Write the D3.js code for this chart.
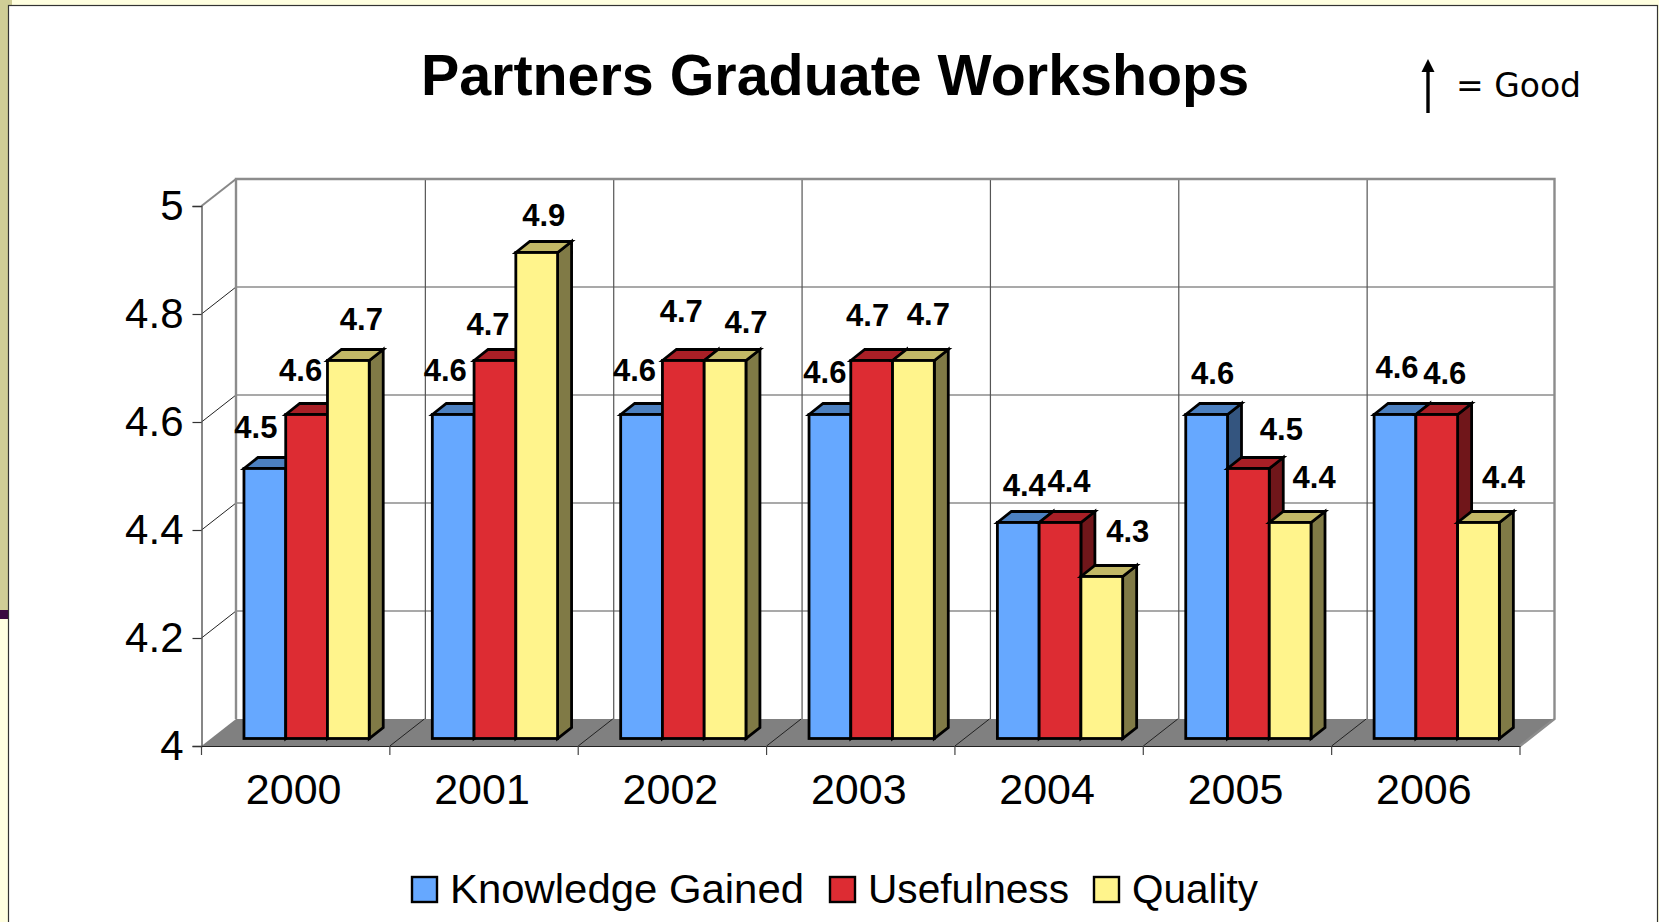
<!DOCTYPE html>
<html>
<head>
<meta charset="utf-8">
<title>Partners Graduate Workshops</title>
<script src="https://d3js.org/d3.v7.min.js"></script>
<style>
    html, body { margin: 0; padding: 0; background: #fff; overflow: hidden; }
    text { font-family: "Liberation Sans", Arial, sans-serif; fill: #000; }
</style>
</head>
<body>
<svg id="chart"></svg>
<script>
////////////
// DATA
////////////
const years = ["2000", "2001", "2002", "2003", "2004", "2005", "2006"];
const seriesNames = ["Knowledge Gained", "Usefulness", "Quality"];
const knowledgeGained = [4.5, 4.6, 4.6, 4.6, 4.4, 4.6, 4.6];
const usefulness = [4.6, 4.7, 4.7, 4.7, 4.4, 4.5, 4.6];
const quality = [4.7, 4.9, 4.7, 4.7, 4.3, 4.4, 4.4];
const yTicks = [4, 4.2, 4.4, 4.6, 4.8, 5];

////////////
// SETTINGS
////////////
const width = 1659, height = 922;
const left = 201.5, right = 1520, top5 = 206, bottom4 = 746;
const wallDx = 34.5, wallDy = -27;   // how far the back wall sits behind the axis
const planeDx = 9.5, planeDy = -7.5; // bars stand a bit behind the front edge
const sideDx = 14, sideDy = -11;     // depth of each bar

const colors = [
    { front: "#66a8ff", top: "#4c80c0", side: "#34557f" },
    { front: "#dd2c33", top: "#a91f26", side: "#70161a" },
    { front: "#fff48c", top: "#c2b866", side: "#807a46" }
];

// the source chart had hand placed labels, offset from the top middle of each bar
const labelOffsets = [
    [[-9, -41], [-8, -44], [-7, -44], [-5, -42], [6, -37], [6, -41], [2, -47]],
    [[-6, -44], [-7, -36], [-2, -49], [-4, -45], [9, -41], [33, -39], [8, -41]],
    [[13, -41], [7, -37], [21, -38], [15, -46], [26, -45], [24, -45], [25, -45]]
];

const series = [knowledgeGained, usefulness, quality];

const svg = d3.select("#chart").attr("width", width).attr("height", height);

const x = d3.scaleBand().domain(years).range([left, right]);
const xBar = d3.scaleBand().domain(d3.range(3)).range([x.bandwidth() * 0.175, x.bandwidth() * 0.84]);
const y = d3.scaleLinear().domain([4, 5]).range([bottom4, top5]);

////////////
// FUNCTION CALLS
////////////
drawFrame();
drawWalls();
drawBars();
drawAxes();
drawLabels();
drawTitle();
drawLegend();

////////////
// DRAWING
////////////
function drawFrame() {
    svg.append("rect").attr("width", width).attr("height", height).attr("fill", "#ffffe0");
    svg.append("rect").attr("x", 0).attr("y", 0).attr("width", 12).attr("height", 6).attr("fill", "#cfcd96");
    svg.append("rect").attr("x", 0).attr("y", 0).attr("width", 9).attr("height", 610).attr("fill", "#cfcd96");
    svg.append("rect").attr("x", 0).attr("y", 610).attr("width", 9).attr("height", 9).attr("fill", "#3a0a40");
    svg.append("rect")
        .attr("x", 8.5).attr("y", 5.5)
        .attr("width", 1649).attr("height", 930)
        .attr("fill", "#fff")
        .attr("stroke", "#333")
        .attr("stroke-width", 1.2);
}

function drawWalls() {
    const g = svg.append("g").attr("class", "walls");
    const floorY = y(4);

    // floor
    g.append("path")
        .attr("d", d3.line()([
            [left, floorY],
            [left + wallDx, floorY + wallDy],
            [right + wallDx, floorY + wallDy],
            [right, floorY]
        ]) + "Z")
        .attr("fill", "#808080");

    // back wall horizontal lines and the diagonals on the left wall
    g.selectAll(".grid").data(yTicks.slice(1)).join("line")
        .attr("class", "grid")
        .attr("x1", left + wallDx).attr("x2", right + wallDx)
        .attr("y1", d => y(d) + wallDy).attr("y2", d => y(d) + wallDy)
        .attr("stroke", "#555").attr("stroke-width", 1.2);

    g.selectAll(".diag").data(yTicks.slice(1)).join("line")
        .attr("class", "diag")
        .attr("x1", left).attr("x2", left + wallDx)
        .attr("y1", d => y(d)).attr("y2", d => y(d) + wallDy)
        .attr("stroke", d => d == 5 ? "#888" : "#222")
        .attr("stroke-width", d => d == 5 ? 2 : 1);

    // back wall verticals, one per category
    g.selectAll(".vert").data(years.slice(1)).join("line")
        .attr("class", "vert")
        .attr("x1", d => x(d) + wallDx + 1).attr("x2", d => x(d) + wallDx + 1)
        .attr("y1", y(5) + wallDy).attr("y2", floorY + wallDy)
        .attr("stroke", "#555").attr("stroke-width", 1.2);

    // floor diagonals
    g.selectAll(".floorDiag").data(years.slice(1)).join("line")
        .attr("class", "floorDiag")
        .attr("x1", d => x(d)).attr("x2", d => x(d) + wallDx)
        .attr("y1", floorY).attr("y2", floorY + wallDy)
        .attr("stroke", "#222").attr("stroke-width", 1);

    // heavier outline of the wall
    g.append("path")
        .attr("d", d3.line()([
            [left + wallDx, floorY + wallDy],
            [left + wallDx, y(5) + wallDy],
            [right + wallDx, y(5) + wallDy],
            [right + wallDx, floorY + wallDy],
            [right, floorY]
        ]))
        .attr("fill", "none")
        .attr("stroke", "#8c8c8c")
        .attr("stroke-width", 2.4);
}

function drawBars() {
    const line = d3.line();
    years.forEach(function (year, i) {
        const group = svg.append("g").attr("class", "bar-group");
        series.forEach(function (values, k) {
            const x0 = x(year) + xBar(k) + planeDx;
            const x1 = x0 + xBar.bandwidth();
            const yTop = y(values[i]) + planeDy;
            const yBase = y(4) + planeDy;
            const c = colors[k];
            const bar = group.append("g")
                .attr("stroke", "#000")
                .attr("stroke-width", 2.8)
                .attr("stroke-linejoin", "miter");

            bar.append("path")
                .attr("d", line([[x1, yTop], [x1 + sideDx, yTop + sideDy], [x1 + sideDx, yBase + sideDy], [x1, yBase]]) + "Z")
                .attr("fill", c.side);
            bar.append("path")
                .attr("d", line([[x0, yTop], [x0 + sideDx, yTop + sideDy], [x1 + sideDx, yTop + sideDy], [x1, yTop]]) + "Z")
                .attr("fill", c.top);
            bar.append("rect")
                .attr("x", x0).attr("y", yTop)
                .attr("width", x1 - x0).attr("height", yBase - yTop)
                .attr("fill", c.front);
        });
    });
}

function drawAxes() {
    const yAxis = d3.axisLeft(y)
        .tickValues(yTicks)
        .tickSize(9)
        .tickPadding(9)
        .tickFormat(d3.format("~g"));

    const yG = svg.append("g")
        .attr("transform", `translate(${left},0)`)
        .call(yAxis);
    yG.selectAll("text").style("font-size", "42px");
    yG.selectAll("line").attr("stroke", "#333").attr("stroke-width", 1.2);
    yG.select(".domain").attr("stroke", "#555").attr("stroke-width", 1.4);

    const xAxis = d3.axisBottom(x).tickSize(0).tickPadding(27);
    const xG = svg.append("g")
        .attr("transform", `translate(0,${bottom4})`)
        .call(xAxis);
    xG.selectAll("text").style("font-size", "43px").attr("dx", -2);
    xG.select(".domain").attr("stroke", "#222").attr("stroke-width", 1.2);

    // the ticks sit between the categories
    xG.selectAll(".edge").data(years.concat("end")).join("line")
        .attr("class", "edge")
        .attr("x1", (d, i) => left + i * x.bandwidth())
        .attr("x2", (d, i) => left + i * x.bandwidth())
        .attr("y1", 0).attr("y2", 9)
        .attr("stroke", "#444").attr("stroke-width", 1.2);
}

function drawLabels() {
    const g = svg.append("g").attr("class", "labels");
    series.forEach(function (values, k) {
        g.selectAll(".label" + k).data(values).join("text")
            .attr("class", "label" + k)
            .attr("text-anchor", "middle")
            .attr("x", (d, i) => x(years[i]) + xBar(k) + planeDx + xBar.bandwidth() / 2 + labelOffsets[k][i][0])
            .attr("y", (d, i) => y(d) - 8 + labelOffsets[k][i][1] + 11)
            .style("font-size", "31px")
            .style("font-weight", "bold")
            .text(d => d3.format(".1f")(d));
    });
}

function drawTitle() {
    svg.append("text")
        .attr("x", 835).attr("y", 95)
        .attr("text-anchor", "middle")
        .style("font-size", "57.4px")
        .style("font-weight", "bold")
        .text("Partners Graduate Workshops");

    // the "= Good" key up in the corner
    svg.append("line")
        .attr("x1", 1428).attr("x2", 1428)
        .attr("y1", 70).attr("y2", 113)
        .attr("stroke", "#000").attr("stroke-width", 3.4);
    svg.append("path")
        .attr("d", d3.line()([[1428, 59], [1434.5, 72], [1421.5, 72]]) + "Z")
        .attr("fill", "#000");
    svg.append("text")
        .attr("x", 1456).attr("y", 97)
        .style("font-family", "'DejaVu Sans', sans-serif")
        .style("font-size", "33px")
        .text("= Good");
}

function drawLegend() {
    const legendX = [412, 830, 1094];
    const legendWidths = [354, 201, 126];
    const g = svg.append("g").attr("class", "legend");
    seriesNames.forEach(function (name, k) {
        g.append("rect")
            .attr("x", legendX[k]).attr("y", 877)
            .attr("width", 25).attr("height", 25)
            .attr("fill", colors[k].front)
            .attr("stroke", "#000")
            .attr("stroke-width", 2.4);
        g.append("text")
            .attr("x", legendX[k] + 38).attr("y", 903)
            .attr("textLength", legendWidths[k])
            .attr("lengthAdjust", "spacingAndGlyphs")
            .style("font-size", "41px")
            .text(name);
    });
}
</script>
</body>
</html>
